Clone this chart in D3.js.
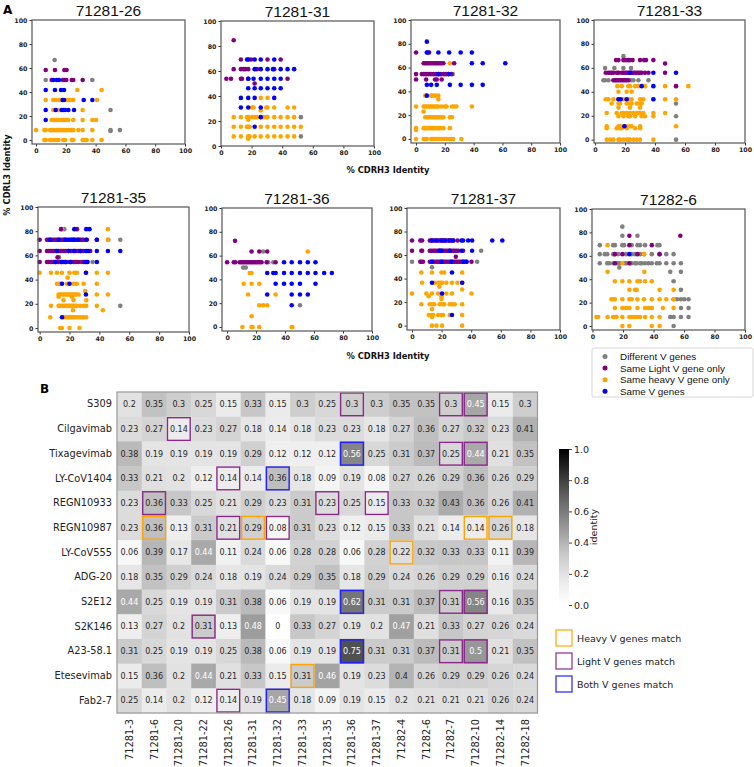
<!DOCTYPE html>
<html><head><meta charset="utf-8">
<script src="https://cdn.jsdelivr.net/npm/d3@7"></script>
<style>body{margin:0;background:#fff}svg{display:block}</style>
</head><body>
<svg id="c" width="754" height="767"></svg>
<script>
// ---------------- DATA : panel A (rows: [CDRL3 %, CDRH3 %, CDRH3 %, ...]) ----------------
const scatterTitles = ["71281-26","71281-31","71281-32","71281-33","71281-35","71281-36","71281-37","71282-6"];
const categoryNames = ["Different V genes","Same Light V gene only","Same heavy V gene only","Same V genes"];

const diff26 = [[66.7,12.5],[50,6.5,37.8],[25,50],[8.3,50,56.3],[7.5,50]];
const light26 = [[58.3,6.5,12.7,19,20.5],[50,10.5,18,19,20.3,24,25,31.3]];
const heavy26 = [[41.7,27.7,44],[33.3,6.5,11.6,13.4,16,20.5,21.7,22.8,25,41],[25,11.6,15,31.3],
 [16.7,10.5,11.6,12.7,13.9,15,16,17.2,18.3,19.5,20.5,21.7,25,31.3,37.8,40.3],
 [8.3,0,5.6,6.5,9.4,10.5,11.6,12.7,13.9,15,16,17.2,18.3,19.5,20.5,21.7,22.8,24,25,28.4,31.3,37.8],
 [0,5.6,6.5,9.4,10.5,11.6,12.7,13.9,15,18.3,19.5,24,25,31.3,33,34,37.8,44]];
const both26 = [[50,11.6,13.9,15.4],[41.7,6.5,12.7,16.8,18.8],[33.3,17.9,18.8,32,37.8],[25,6.5,13.2,17.2,18.3,19.5,21.7,25.5],[16.7,6.5]];

const diff31 = [[23.1,52.2],[7.7,52.2]];
const light31 = [[84.6,8.3],[69.2,13,19.6,30.4,39],[61.5,8.3,13,14.8,15.9,17.8,23.5,34.8],[53.8,3.5,6.5,13,13.7,17.8,43.5],[50,22]];
const heavy31 = [[38.5,26,30.4],[30.8,20.2,21.3,29.6,30.4,34.8,43.5,47.8],[28.5,26],
 [23.1,8.3,13,17,17.8,20.2,22,23.5,26,27.8,29.6,30.4,34.8,39,43.5,47.8],[21,17.8],
 [15.4,8.3,13,17,17.8,18.7,26,30.4,34.8,39,43.5,47.8,52.2],[7.7,8.3,13,17.8,18.7,22,26,30.4,34.8,39,43.5,47.8],[5.9,17.8]];
const both31 = [[69.2,17,17.8,22,26,34.8],[61.5,22,26,30.4,34,39,43.5,47.8],[53.8,17.8,21.3,26,30.4,34.8,39],
 [46.2,17.8,22,26,30.4,34.8,39],[38.5,13,17.8,22,34.8],[30.8,13,17.8,26],[23.1,26],[15.4,22]];

const diff32 = [[54.5,25.5]];
const light32 = [[72.7,0,9.1],[63.6,5.3,6.4,7.5,8.7,9.8,11,12.1,13.2,14.4,15.5,16.7,17.8,19,26.5],
 [54.5,0,4,5.3,6.4,7.5,8.7,9.8,11,12.1,13.2,14.4,15.5,16.7,17.8,19,20.1,21.2,22.4,24.7],[50,0,7,13.2,14.4,17.8]];
const heavy32 = [[63.6,23.5],[36.4,6.4,10.5,11.4,13.2,15.5],[33.3,15.5],
 [27.3,0,5.3,6.4,7.5,8.7,9.8,11,12.1,13.2,14.4,15.5,17.8,20.1,21.2,25,26.5,28,38.8],[23,5.3],
 [18.2,6.4,7.5,8.7,9.8,11,12.1,13.2,14.4,15.5,16.7,17.8,19,23.5,25],
 [9.1,0,5.3,6.4,7.5,8.7,9.8,11,12.1,13.2,14.4,15.5,16.7,19,23.5],[7.6,0],
 [0,0,5.3,6.4,7.5,10.5,11.4,12.3,13.2,14.4,15.5,16.7,17.8,19,20.1,21.2,23.5,24.7,25.8,31.5]];
const both32 = [[81.8,7.5],[72.7,7.5,8.2,15.5,23,31,38.8],[63.6,38.8,46.3,62],[54.5,15.5,22.8],[45.5,7.5,10.5,14.4,23.5,31,38.8,46.3],[36.4,7.5]];

const diff33 = [[69.8,18.9],[59.8,6.7,12.9,18.9,24],[49.7,5.6,6.7,8.9,14.4,24,25.6,28.9,35.6],[30.2,54],[19.6,54],[0,54]];
const light33 = [[66.5,14,15.6,18.9,20,21.1,22.2,23.3,25,30,32.7,34,38.9],[63.7,46.7],
 [55.9,7.1,8.9,10,11.1,12.2,14.4,15.6,17.8,18.9,20,21.1,22.2,23.3,24.4,25.6,26.7,27.8,28.9,30,31.1,33.3,35.6,46.7],
 [49.7,12.2,13.3,14.4,15.6,16.7,17.8,18.9,20,21.1,22.2],[44.7,54]];
const heavy33 = [[55.9,15.6],[44.7,14.9,17.8,22.2,23.3,26.7,28.9,33.3,46.7,54,62.2],[40,15.6,21.1,24.4],
 [33.8,7.1,8.9,12.2,15.6,18.9,22.2,24.4,30,32.2,38.9,46.7,54],[30.2,11.1,15.6,16.7,21.1,23.3,24.4,27.8,30,31.1],
 [26.8,15.6,23.3,30],[22.3,7.8,14.4,17.8,18.9,21.1,23.3,25.6,27.8,28.9,30,32.2,38.9,46.7],
 [19.6,15.6,18.9,22.2,23.3,26.7,31.1,33.3,38.9],[11.2,7.8,15.6,16.7,18.9,21.1,23.3,24.4,30,54],
 [9.5,7.8,14.4,16.7,17.8,21.1,26.7,30],[0,7.8,10,12.2,15.6,16.7,18.9,21.1,22.2,23.3,25.6,27.8,30,38.9]];
const both33 = [[55.9,23.3,38.9,54],[44.7,31.1,38.9],[33.8,15.6,17.1,21.1,38.9],[11.2,19.6]];

const diff35 = [[81.7,16.5],[72.9,46,54],[58.4,13],[54.6,35.5],[18.3,54]];
const light35 = [[81.7,14.3,25],
 [72.9,0,4.9,6,7.1,8.2,9.4,10.5,11.6,12.7,13.8,14.9,16,17.1,18.3,20.5,21.6,22.7,23.8,25,26.1,27.2,28.3,29.4,31.6,38.3],
 [63.7,0,4.9,6,7.1,8.2,9.4,10.5,11.6,12.7,13.8,14.9,16,17.1,18.3,19.4,20.5,21.6,22.7,23.8,25,26.1,27.2,28.3,29.4,31.6,33.9],
 [58.4,12],[54.6,0,4.9,6,7.1,8.2,9.4,10.5,11.6,12.7,13.8,14.9,16,17.1,18.3,20.5,21.6,22.7,23.8,25,26.1,28.3,29.4,31.6]];
const heavy35 = [[81.7,14.9,45.7],[72.9,45.7],[45.7,0,7.6,11.6,14.9,20,23.2,24.9,31,38.3,45.7],[41.6,18.7],
 [36.6,11.6,12.7,13.8,18.3,22.7,24.9,29.4,38.3],[30.5,30.5],
 [27.7,12.7,13.8,14.9,16,17.1,18.3,19.4,20.5,21.6,22.7,23.8,24.9,26.1,38.3,45.7],[25.8,12.7,21.6],[23,16,22.7,31.2],
 [18.3,7.6,12.7,13.8,14.9,16,17.1,18.3,19.4,20.5,21.6,22.7,23.8,24.9,27.2,29.4,31.2,38.3],[14.7,22.3,42.3],
 [8.9,7.1,16,17.1,18.3,19.4,20.5,21.6,22.7,23.8,24.9,26.1,27.2,28.3,29.4,31.2],[0,13.8,14.9,20,26.7]];
const both35 = [[81.7,23.2,31.2,33.4],[72.9,7.1,12.7,17.1,19.4,21.6,23.2,25.8,31.2,38.3],
 [63.7,11.6,19.4,23.2,27.2,31,32.7,38.3,45.7,54],[54.6,10.5,14.9,17.1,20.5,30.5,32.1,38.3],[45.7,31],[36.6,15,20],[27.7,31],[8.9,15]];

const diff36 = [[63.4,24.9],[54.4,28.4,31.9],[49.9,11.1,12.9],[18.3,50.3]];
const light36 = [[72.4,5.5],[63.4,16.9,22.2,27.7],
 [54.4,0,4.6,5.8,8.8,9.9,11.1,12.2,13.4,14.5,15.7,16.9,18,19.2,20.3,21.5,22.6,23.8,27.3,33.5]];
const heavy36 = [[63.4,55.7],[45.4,15.7,16.9],[36.3,11.5,16.9,22.2],[27.3,14.5,33.5],[18.3,22.2,24.9,27.7],[9,16.9],[0,10.6,16.9,17.6,22.2,44.6,45.1]];
const both36 = [[54.4,39.3,44.6,50.3,55.7,61],[45.4,27.7,31.9,33.5,39.3,44.6,50.3,55.7,61,67,72.3],
 [36.3,33.5,39.3,44.6,50.3,61],[27.3,27.7,44.6,50.3,55.7],[18.3,44.6]];

const diff37 = [[63.6,46.7],[54.3,0,44],[49.7,13.5]];
const light37 = [[72.4,0,5.6,6.8,12,13.1,14.2,15.3,16.5,17.6,18.7,19.9,21,22.1,23.2,24.4,25.5,26.6,27.8,30.7],
 [63.6,0,6.3,6.8,12,13.1,14.2,15.3,16.5,17.6,18.7,19.9,21,22.1,23.2,24.4,25.5,26.6,27.8,28.9,30,31.2,34.5],[58.5,29.6],
 [54.3,5.6,6.3,7.4,12,13.1,14.2,15.3,16.5,17.6,18.7,19.9,21,22.1,23.2,24.4,25.5,26.6,27.8,28.9,30,31.2,32.3,33.4,34.5,35.7,36.8,40.2]];
const heavy37 = [[45.2,6.3,13.5,19.9,21.7,33.9],[36.4,6.8,15.3,17.6,19,20.3,23.2,27,30.7,33.9],[33.2,18.5],[30.7,33.9],
 [27.3,0,9.7,13.5,17.6,23.2,27,40.2],[25,11.3,19.9],[22.7,19.9],
 [18.2,6.3,11.9,13.5,14.9,18.7,20.3,21.7,25.5,27,28.9,33.9],[14.2,13.5],
 [9.1,11.3,13.1,14.2,17.6,19.9,21,25.5,33.9],[7.4,13.5],[0,13.5,16.5,20.3,33.9]];
const both37 = [[72.4,13.5,16.5,19.9,22.1,25.5,27.8,33.4,34.5,37.9,40.6,54.2,61],[63.6,18.7,19.9,25.5,33.4,40.6],
 [54.3,13.5,19.9,26.6,34.5,36.8],[45.2,27],[36.4,13.5,33.9],[27.3,20.3],[9.1,27]];

const diff6 = [[84.9,19.6],[77.1,19.6,29.5],[69.1,4.8,13.6,14.7,19.6,20.7,25.7,29.5,31.2,34.5,42.6,43.9],
 [61.4,4.8,8.1,9.7,13.6,14.7,16.9,22,25.7,27.9,31.2,33.8,38.9,44,48.4,53.2],
 [53.7,4.8,9.7,11,13.6,15.8,16.9,18,21.3,22.4,24.6,25.7,27.9,29,31.2,32.3,34.5,36.7,38.9,42.2,44,48.4,53.2,58],
 [50,17.6],[46.3,51,58],[38.3,53.2],[30.9,58],[22.9,53.2,55.4,58,60.2,63],[15.4,58,63],[7.7,51,53.2,58,63],[0,53.2]];
const light6 = [[77.1,24.2,57.6],[69.1,24.2,38.9],[61.4,14.7,19.6,29.5,44],[53.7,14.7,24.2]];
const heavy6 = [[69.1,9.9],[61.4,33.8],[53.7,19.6],[46.3,9.9,34],[38.3,14.7,19.6,24.2,29.5,31.2,34.5,38.9],
 [30.9,24.2,27.9,29,44,53.2],[22.9,12.5,13.6,14.7,19.6,24.2,25.7,29.5,33.8,38.9,44,48.4,53.2],
 [15.4,14.7,19.6,22,24.2,29.5,34.5,36.7,38.9,46.2,53.2],
 [7.7,2.6,3.7,9.9,13.6,14.7,15.8,19.6,24.2,25.7,26.8,27.9,29.5,31.2,34.5,38.9,44],[0,19.6,24.2,38.9,44]];
const both6 = [[61.4,24.2]];

const panelDiff  = [diff26, diff31, diff32, diff33, diff35, diff36, diff37, diff6];
const panelLight = [light26, light31, light32, light33, light35, light36, light37, light6];
const panelHeavy = [heavy26, heavy31, heavy32, heavy33, heavy35, heavy36, heavy37, heavy6];
const panelBoth  = [both26, both31, both32, both33, both35, both36, both37, both6];
const axisTicks = [0,20,40,60,80,100];

// ---------------- DATA : panel B ----------------
const antibodies = ["S309","Cilgavimab","Tixagevimab","LY-CoV1404","REGN10933","REGN10987","LY-CoV555","ADG-20","S2E12","S2K146","A23-58.1","Etesevimab","Fab2-7"];
const donors = ["71281-3","71281-6","71281-20","71281-22","71281-26","71281-31","71281-32","71281-33","71281-35","71281-36","71281-37","71282-4","71282-6","71282-7","71282-10","71282-14","71282-18"];
const identity = [
 [0.2,0.35,0.3,0.25,0.15,0.33,0.15,0.3,0.25,0.3,0.3,0.35,0.35,0.3,0.45,0.15,0.3],
 [0.23,0.27,0.14,0.23,0.27,0.18,0.14,0.18,0.23,0.23,0.18,0.27,0.36,0.27,0.32,0.23,0.41],
 [0.38,0.19,0.19,0.19,0.19,0.29,0.12,0.12,0.12,0.56,0.25,0.31,0.37,0.25,0.44,0.21,0.35],
 [0.33,0.21,0.2,0.12,0.14,0.14,0.36,0.18,0.09,0.19,0.08,0.27,0.26,0.29,0.36,0.26,0.29],
 [0.23,0.36,0.33,0.25,0.21,0.29,0.23,0.31,0.23,0.25,0.15,0.33,0.32,0.43,0.36,0.26,0.41],
 [0.23,0.36,0.13,0.31,0.21,0.29,0.08,0.31,0.23,0.12,0.15,0.33,0.21,0.14,0.14,0.26,0.18],
 [0.06,0.39,0.17,0.44,0.11,0.24,0.06,0.28,0.28,0.06,0.28,0.22,0.32,0.33,0.33,0.11,0.39],
 [0.18,0.35,0.29,0.24,0.18,0.19,0.24,0.29,0.35,0.18,0.29,0.24,0.26,0.29,0.29,0.16,0.24],
 [0.44,0.25,0.19,0.19,0.31,0.38,0.06,0.19,0.19,0.62,0.31,0.31,0.37,0.31,0.56,0.16,0.35],
 [0.13,0.27,0.2,0.31,0.13,0.48,0,0.33,0.27,0.19,0.2,0.47,0.21,0.33,0.27,0.26,0.24],
 [0.31,0.25,0.19,0.19,0.25,0.38,0.06,0.19,0.19,0.75,0.31,0.31,0.37,0.31,0.5,0.21,0.35],
 [0.15,0.36,0.2,0.44,0.21,0.33,0.15,0.31,0.46,0.19,0.23,0.4,0.26,0.29,0.29,0.26,0.24],
 [0.25,0.14,0.2,0.12,0.14,0.19,0.45,0.18,0.09,0.19,0.15,0.2,0.21,0.21,0.21,0.26,0.24]
];
const heavyMatch = [["REGN10987","71281-6"],["REGN10987","71281-31"],["REGN10987","71282-10"],["REGN10987","71282-14"],["LY-CoV555","71282-4"],["Etesevimab","71281-33"]];
const lightMatch = [["S309","71281-36"],["S309","71282-7"],["S309","71282-10"],["Cilgavimab","71281-20"],["Tixagevimab","71282-7"],["Tixagevimab","71282-10"],
 ["LY-CoV1404","71281-26"],["REGN10933","71281-6"],["REGN10933","71281-35"],["REGN10933","71281-37"],["REGN10987","71281-26"],["REGN10987","71281-32"],
 ["S2E12","71282-7"],["S2E12","71282-10"],["S2K146","71281-22"],["A23-58.1","71282-7"],["A23-58.1","71282-10"],["Fab2-7","71281-26"]];
const bothMatch = [["Tixagevimab","71281-36"],["LY-CoV1404","71281-32"],["S2E12","71281-36"],["A23-58.1","71281-36"],["Fab2-7","71281-32"]];
const matchLabels = ["Heavy V genes match","Light V genes match","Both V genes match"];
const colorbarTicks = [0,0.2,0.4,0.6,0.8,1.0];

// ---------------- DRAWING ----------------
const svg = d3.select("#c");
const catColors = ["#808080","#800080","#ffa500","#0000ff"];
const matchColors = ["#ffa500","#8b2a8b","#2222ff"];

// panel frames [left, top, right, bottom] and axis lower limits
const frames = [[32,20,185,144],[221,21,374,146],[411,20,560,143],[594,20,745,143],
                [38,207,189,332],[222,208,372,331],[407,208,560,330],[592,209,745,330]];
const lowLim = [[-2.7,-3.3],[0,0],[-3.5,-3.4],[-0.7,-2.8],[-1.1,-3.3],[-3.5,-3.4],[-3.4,-3.7],[-0.3,-3.4]];

svg.append("text").attr("x",3).attr("y",14).attr("font-family","DejaVu Sans").attr("font-weight","bold").attr("font-size",12).text("A");

scatterTitles.forEach((title,i)=>{
  const [L,T,R,B] = frames[i];
  const x = d3.scaleLinear().domain([lowLim[i][0],100]).range([L,R]);
  const y = d3.scaleLinear().domain([lowLim[i][1],100]).range([B,T]);
  const g = svg.append("g");
  g.append("text").attr("x",(L+R)/2).attr("y",T-4.5).attr("text-anchor","middle")
    .attr("font-family","Liberation Sans").attr("font-size",15.5).attr("fill","#111").text(title);
  const xa = g.append("g").attr("transform",`translate(0,${B})`)
    .call(d3.axisBottom(x).tickValues(axisTicks).tickSize(2.5).tickPadding(2));
  const ya = g.append("g").attr("transform",`translate(${L},0)`)
    .call(d3.axisLeft(y).tickValues(axisTicks).tickSize(2.5).tickPadding(2));
  [xa,ya].forEach(a=>{
    a.select(".domain").remove();
    a.selectAll("line").attr("stroke","#333");
    a.selectAll("text").attr("font-family","DejaVu Sans").attr("font-weight","bold").attr("font-size",6.3).attr("fill","#222");
  });
  const sets = [panelDiff[i], panelHeavy[i], panelLight[i], panelBoth[i]];
  const cols = [catColors[0], catColors[2], catColors[1], catColors[3]];
  sets.forEach((rows,k)=>{
    const pts = [];
    rows.forEach(r=>{ for(let j=1;j<r.length;j++) pts.push([r[j], r[0]]); });
    g.selectAll(null).data(pts).enter().append("circle")
      .attr("cx",d=>x(d[0])).attr("cy",d=>y(d[1])).attr("r",2.3).attr("fill",cols[k]);
  });
  g.append("rect").attr("x",L).attr("y",T).attr("width",R-L).attr("height",B-T)
    .attr("fill","none").attr("stroke","#555").attr("stroke-width",1.2);
});

// axis titles
const lab = (x,y,t,rot)=>svg.append("text").attr("transform",`translate(${x},${y})${rot?" rotate(-90)":""}`)
  .attr("text-anchor","middle").attr("font-family","DejaVu Sans").attr("font-weight","bold").attr("font-size",8.3).attr("fill","#111").text(t);
lab(388,173,"% CDRH3 Identity");
lab(388,359,"% CDRH3 Identity");
lab(10,175,"% CDRL3 Identity",true);

// scatter legend
const lg = svg.append("g");
lg.append("rect").attr("x",592).attr("y",348).attr("width",161).attr("height",49).attr("rx",2)
  .attr("fill","#fff").attr("stroke","#ccc").attr("stroke-width",0.8);
categoryNames.forEach((n,k)=>{
  const yy = 356.5 + k*11.6;
  lg.append("circle").attr("cx",605).attr("cy",yy).attr("r",2.5).attr("fill",catColors[k]);
  lg.append("text").attr("x",620).attr("y",yy+3.4).attr("font-family","Liberation Sans").attr("font-size",9.9).attr("fill","#111").text(n);
});

// ---------------- HEATMAP ----------------
svg.append("text").attr("x",40).attr("y",393).attr("font-family","DejaVu Sans").attr("font-weight","bold").attr("font-size",12).text("B");
const hx = d3.scaleBand().domain(donors).range([117,537.5]);
const hy = d3.scaleBand().domain(antibodies).range([392,713]);
const grey = v=>d3.interpolateGreys(v);
const hg = svg.append("g");
antibodies.forEach((a,r)=>{
  donors.forEach((d,c)=>{
    const v = identity[r][c];
    hg.append("rect").attr("x",hx(d)).attr("y",hy(a)).attr("width",hx.bandwidth()+0.5).attr("height",hy.bandwidth()+0.5).attr("fill",grey(v));
    hg.append("text").attr("x",hx(d)+hx.bandwidth()/2).attr("y",hy(a)+hy.bandwidth()/2).attr("dy","0.35em")
      .attr("text-anchor","middle").attr("font-family","DejaVu Sans").attr("font-size",8)
      .attr("fill", v>=0.44 ? "#fff" : "#262626").text(String(v));
  });
});
[heavyMatch,lightMatch,bothMatch].forEach((list,k)=>{
  list.forEach(([a,d])=>{
    hg.append("rect").attr("x",hx(d)+1).attr("y",hy(a)+1).attr("width",hx.bandwidth()-2).attr("height",hy.bandwidth()-2)
      .attr("fill","none").attr("stroke",matchColors[k]).attr("stroke-width",1.4);
  });
});
hg.append("rect").attr("x",117).attr("y",392).attr("width",420.5).attr("height",321).attr("fill","none").attr("stroke","#999").attr("stroke-width",1.2);
const rowAx = svg.append("g").attr("transform","translate(117,0)").call(d3.axisLeft(hy).tickSize(0).tickPadding(5));
const colAx = svg.append("g").attr("transform","translate(0,713)").call(d3.axisBottom(hx).tickSize(0).tickPadding(5));
[rowAx,colAx].forEach(a=>{a.select(".domain").remove();
  a.selectAll("text").attr("font-family","DejaVu Sans").attr("font-size",9.8).attr("fill","#222");});
colAx.selectAll("text").attr("transform","rotate(-90)").attr("text-anchor","end").attr("x",-6).attr("y",0).attr("dy","0.35em");

// colorbar
const defs = svg.append("defs");
const grad = defs.append("linearGradient").attr("id","cb").attr("x1",0).attr("y1",1).attr("x2",0).attr("y2",0);
d3.range(0,1.0001,0.05).forEach(t=>grad.append("stop").attr("offset",t).attr("stop-color",grey(t)));
const cbY = d3.scaleLinear().domain([0,1]).range([605,449]);
svg.append("rect").attr("x",559).attr("y",449).attr("width",10).attr("height",156).attr("fill","url(#cb)");
const cbAx = svg.append("g").attr("transform","translate(569,0)").call(d3.axisRight(cbY).tickValues(colorbarTicks).tickFormat(d3.format(".1f")).tickSize(3).tickPadding(2));
cbAx.select(".domain").remove();
cbAx.selectAll("line").attr("stroke","#444");
cbAx.selectAll("text").attr("font-family","DejaVu Sans").attr("font-size",9.5).attr("fill","#222");
svg.append("text").attr("transform","translate(597,527) rotate(-90)").attr("text-anchor","middle")
  .attr("font-family","DejaVu Sans").attr("font-size",9.5).attr("fill","#222").text("identity");

// match legend
matchLabels.forEach((t,k)=>{
  const yy = 630 + k*23;
  svg.append("rect").attr("x",556).attr("y",yy).attr("width",16).attr("height",16).attr("fill","none").attr("stroke",matchColors[k]).attr("stroke-width",1.2);
  svg.append("text").attr("x",577).attr("y",yy+11.5).attr("font-family","DejaVu Sans").attr("font-size",9.5).attr("fill","#222").text(t);
});
</script>
</body></html>
